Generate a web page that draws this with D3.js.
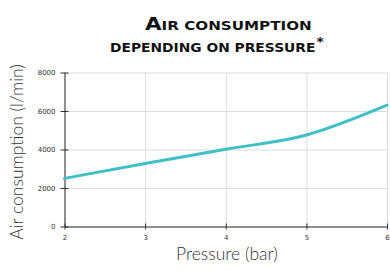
<!DOCTYPE html>
<html>
<head>
<meta charset="utf-8">
<script src="https://cdn.jsdelivr.net/npm/d3@7"></script>
<style>
	body { margin: 0; background: #fff; }
	svg { display: block; }
	.grid line { stroke: #dcdcdc; stroke-width: 1; }
	.grid path { display: none; }
	.axis path, .axis line { stroke: #333; stroke-width: 1; }
	.axis text { font-family: "DejaVu Sans", sans-serif; font-size: 7px; fill: #333; }
	.ttl { font-family: "DejaVu Sans", sans-serif; font-weight: bold; fill: #111; }
	.lbl { font-family: "Lato", sans-serif; font-weight: 300; font-size: 17.5px; fill: #333; }
</style>
</head>
<body>
<svg id="chart" width="390" height="270"></svg>
<script>
	// data
	var pressure = [2, 3, 4, 5, 6];
	var consumption = [2500, 3270, 4010, 4750, 6300];
	var xTicks = [2, 3, 4, 5, 6];
	var yTicks = [0, 2000, 4000, 6000, 8000];

	var margin = { left: 64.5, right: 3, top: 72.5, bottom: 43.5 };
	var w = 390, h = 270;

	var svg = d3.select('#chart');

	var x = d3.scaleLinear().domain([2, 6]).range([margin.left, w - margin.right]);
	var y = d3.scaleLinear().domain([0, 8000]).range([h - margin.bottom, margin.top]);

	// gridlines
	svg.append('g')
		.attr('class', 'grid')
		.attr('transform', 'translate(0,' + margin.top + ')')
		.call(d3.axisBottom(x).tickValues(xTicks).tickSize(h - margin.bottom - margin.top).tickFormat(''));
	svg.append('g')
		.attr('class', 'grid')
		.attr('transform', 'translate(' + margin.left + ',0)')
		.call(d3.axisRight(y).tickValues(yTicks).tickSize(w - margin.right - margin.left).tickFormat(''));

	// axes, ticks cross the axis line
	var gx = svg.append('g')
		.attr('class', 'axis')
		.attr('transform', 'translate(0,' + y(0) + ')')
		.call(d3.axisBottom(x).tickValues(xTicks).tickFormat(d3.format('d'))
			.tickSizeInner(3).tickSizeOuter(0).tickPadding(6));
	gx.selectAll('.tick line').attr('y1', -3);

	var gy = svg.append('g')
		.attr('class', 'axis')
		.attr('transform', 'translate(' + margin.left + ',0)')
		.call(d3.axisLeft(y).tickValues(yTicks).tickFormat(d3.format('d'))
			.tickSizeInner(4).tickSizeOuter(0).tickPadding(5));
	gy.selectAll('.tick line').attr('x1', 4);

	// the curve
	var pts = pressure.map(function(p, i){ return [p, consumption[i]]; });
	var line = d3.line()
		.x(function(d){ return x(d[0]); })
		.y(function(d){ return y(d[1]); })
		.curve(d3.curveMonotoneX);
	svg.append('path')
		.datum(pts)
		.attr('d', line)
		.attr('fill', 'none')
		.attr('stroke', '#3ec0c6')
		.attr('stroke-width', 3)
		.attr('stroke-linecap', 'round');

	// title in small caps
	var t1 = svg.append('text').attr('class', 'ttl')
		.attr('x', 145).attr('y', 30);
	t1.append('tspan').attr('font-size', 17).text('A');
	t1.append('tspan').attr('font-size', 12).text('IR CONSUMPTION');

	var t2 = svg.append('text').attr('class', 'ttl')
		.attr('x', 110).attr('y', 52);
	t2.append('tspan').attr('font-size', 12).text('DEPENDING ON PRESSURE');
	t2.append('tspan').attr('font-size', 12).attr('dy', -6).attr('dx', 1).text('*');

	// fit title widths to the picture
	var fit = function(t, width){
		var bw = t.node().getBBox().width;
		t.attr('transform', 'translate(' + t.attr('x') + ',0) scale(' + (width / bw) + ',1) translate(' + (-t.attr('x')) + ',0)');
	};
	fit(t1, 167);
	fit(t2, 215);

	// axis labels
	svg.append('text').attr('class', 'lbl')
		.attr('x', 227).attr('y', 260)
		.attr('text-anchor', 'middle')
		.text('Pressure (bar)');
	svg.append('text').attr('class', 'lbl')
		.attr('transform', 'translate(23,152) rotate(-90)')
		.attr('text-anchor', 'middle')
		.text('Air consumption (l/min)');
</script>
</body>
</html>
